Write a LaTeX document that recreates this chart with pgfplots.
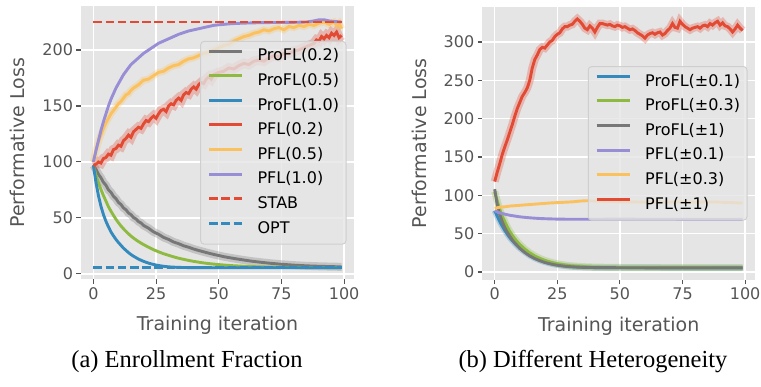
\documentclass[border=0pt]{standalone}
\usepackage{fontspec}
\setmainfont{DejaVu Sans}
\newfontfamily\capfont{Liberation Serif}
\usepackage{pgfplots}
\usepackage{pgfplotstable}
\pgfplotsset{compat=1.18}
\definecolor{bg}{HTML}{E5E5E5}
\definecolor{tickc}{HTML}{555555}
\definecolor{labc}{HTML}{555555}
\definecolor{legc}{HTML}{CFCFCF}
\definecolor{cred}{HTML}{E24A33}
\definecolor{cblue}{HTML}{348ABD}
\definecolor{cpurple}{HTML}{988ED5}
\definecolor{cgray}{HTML}{777777}
\definecolor{cyellow}{HTML}{FBC15E}
\definecolor{cgreen}{HTML}{8EBA42}

% ---------- left panel data ----------
\pgfplotstableread{
t v
0 97
1 93.4
2 89.0
3 85.9
4 81.8
5 79.2
6 75.1
7 72.9
8 69.3
9 67.2
10 63.8
11 62.0
12 58.9
13 57.3
14 54.4
15 52.9
16 50.3
17 49.1
18 46.7
19 45.5
20 43.3
22 40.8
24 37.5
26 35.4
28 32.6
30 30.8
32 28.5
34 27.0
36 25.1
38 23.8
40 22.2
42 20.9
44 19.7
46 18.5
48 17.4
50 16.4
52 15.4
54 14.6
56 13.8
58 13.1
60 12.4
63 11.4
66 10.6
70 9.6
75 8.6
80 7.8
85 7.2
90 6.8
95 6.5
99 6.3
}\Lgray
\pgfplotstableread{
t v
0 97
1 88
2 81.5
3 75.5
4 70
5 65
6 60
7 56
8 52.3
9 48.8
10 45.7
11 42.8
12 40.3
13 38
14 35.8
15 33.8
16 32
17 30.4
18 28.9
19 27.5
20 26.2
22 23.8
24 21.6
26 19.7
28 18
30 16.6
32 15.2
34 14
36 13
38 12
40 11.2
43 10.1
46 9.2
50 8.3
55 7.4
60 6.8
65 6.4
70 6.1
80 5.8
90 5.7
99 5.6
}\Lgreen
\pgfplotstableread{
t v
0 97
1 82
2 70
3 60.5
4 53
5 47
6 42
7 37.5
8 34
9 30.8
10 28
11 25.5
12 23
13 21
14 19
15 17.3
16 15.8
18 13.2
20 11.2
22 9.6
24 8.4
26 7.5
28 6.8
30 6.3
33 5.9
36 5.7
40 5.6
50 5.5
99 5.5
}\Lblue
\pgfplotstableread{
t v
0 97
1 98
2 100
3 99
4 103
5 104
6 107
7 106
8 111
9 112
10 115
11 114
12 119
13 121
14 124
15 122
16 127
17 129
18 131
19 130
20 134
21 137
22 136
23 139
24 141
25 139
26 143
27 146
28 147
29 145
30 150
31 152
32 151
33 155
34 157
35 155
36 160
37 162
38 161
39 165
40 167
41 165
42 169
43 171
44 170
45 174
46 176
47 174
48 178
50 180
52 181
54 184
56 183
58 186
60 188
62 187
64 190
66 191
68 190
70 193
72 195
74 194
76 197
78 197
80 199
82 200
84 202
86 204
88 206
89 209
90 208
91 212
92 210
93 213
94 211
95 215
96 213
97 216
98 211
99 213
}\Lred
\pgfplotstableread{
t v
0 100
1 110
2 118
3 124
4 130
5 135
6 139
7 143
8 146
9 149
10 152
11 154
12 157
13 160
14 161
15 164
16 166
18 169
20 173
22 174
24 177
26 180
28 181
30 184
32 186
34 187
36 190
38 192
40 193
42 195
44 197
46 198
48 200
50 202
52 204
54 205
56 208
58 210
60 212
62 213
64 215
66 216
68 218
70 217
72 219
74 220
76 218
78 221
80 220
82 222
84 221
86 223
88 222
90 224
92 225
94 223
96 225
97 222
98 224
99 219
}\Lyellow
\pgfplotstableread{
t v
0 100
1 110
2 119
3 128
4 136
5 143
6 150
7 156
8 161
9 166
10 170
11 174
12 178
13 181
14 184
15 187
16 189
17 191
18 193
19 195
20 197
22 200
24 203
26 206
28 208
30 210
32 212
34 214
36 215.5
38 217
40 218
42 219
44 220
46 221
48 222
50 222.5
55 223.5
60 224
65 224.3
70 224.5
75 224.6
80 224.7
85 225
88 226
90 227
92 227
94 226
96 225.5
99 225
}\Lpurple

% ---------- right panel data ----------
\pgfplotstableread{
t v
0 80
1 73
2 66
3 60
4 54.5
5 49.5
6 45
7 41
8 37.5
10 31
12 26
14 21.5
16 18
18 15.2
20 13
22 11.2
24 9.8
26 8.7
28 7.8
30 7.1
33 6.5
36 6.1
40 5.8
50 5.6
99 5.5
}\Rblue
\pgfplotstableread{
t v
0 105
1 93
2 82
3 73
4 66
5 59
6 53
7 48
8 43.5
9 39.5
10 36
12 30
14 25
16 21
18 17.8
20 15.2
22 13.2
24 11.5
26 10.1
28 9.1
30 8.3
33 7.5
36 6.9
40 6.4
50 5.9
60 5.7
99 5.6
}\Rgreen
\pgfplotstableread{
t v
0 108
1 88
2 75
3 66
4 58
5 52
6 47
7 42
8 38
9 34.5
10 31
12 25.5
14 21
16 17.5
18 14.8
20 12.5
22 10.8
24 9.4
26 8.4
28 7.6
30 7
33 6.4
36 6
40 5.8
50 5.6
60 5.5
99 5.5
}\Rgray
\pgfplotstableread{
t v
0 80
2 77
4 75.5
6 74
8 73
10 72
12 71.3
14 70.7
16 70.2
18 69.8
20 69.5
25 69
30 68.8
40 68.8
50 69
60 68.8
70 68.8
80 68.6
90 68.7
99 68.6
}\Rpurple
\pgfplotstableread{
t v
0 83
2 84.5
4 85
6 86
8 86.5
10 87
12 87.5
14 88
16 88.5
18 89
20 89.5
22 90
25 90.5
28 91
31 91.5
34 92.5
37 93
40 92.5
45 92
50 91.5
55 91.5
60 91
65 91.5
70 91
75 91.5
80 91
85 91.5
90 91
95 90.5
99 90
}\Ryellow
\pgfplotstableread{
t v
0 118
1 130
2 141
3 153
4 163
5 172
6 182
7 192
8 203
9 213
10 221
11 229
12 234
13 240
14 250
15 266
16 277
17 283
18 290
19 293
20 292
21 296
22 300
23 302
24 307
25 310
26 312
27 317
28 320
29 320
30 322
31 323
32 327
33 330
34 327
35 323
36 318
37 316
38 321
39 318
40 313
41 319
42 324
43 324
44 323
45 322
46 323
47 321
48 320
49 322
50 321
51 319
52 320
53 318
54 316
55 317
56 315
57 312
58 310
59 308
60 305
61 309
62 311
63 312
64 310
65 312
66 313
67 309
68 311
69 315
70 318
71 324
72 319
73 318
74 327
75 323
76 320
77 318
78 316
79 318
80 319
81 320
82 318
83 321
84 322
85 320
86 324
87 322
88 325
89 327
90 322
91 325
92 321
93 320
94 317
95 313
96 317
97 322
98 318
99 315
}\Rred

\tikzset{mainline/.style={line width=2.9pt}, bandline/.style={line width=#1, opacity=0.3}}

\pgfplotsset{ggstyle/.style={
  scale only axis, anchor=south west,
  axis background/.style={fill=bg},
  axis line style={draw=none},
  grid=major, major grid style={white, line width=1.3pt},
  tick align=outside, major tick length=4.5pt,
  tick style={color=tickc, line width=1.1pt},
  tick pos=left,
  xtick={0,25,50,75,100},
  /pgf/number format/assume math mode=true,
  tick label style={font=\fontsize{16}{19}\selectfont, text=labc},
  xlabel style={font=\fontsize{19}{22}\selectfont, text=labc, at={(axis description cs:0.5,-0.187)}, anchor=base},
  ylabel style={font=\fontsize{19}{22}\selectfont, text=labc, anchor=center},
  xlabel={Training iteration}, ylabel={Performative Loss},
  legend cell align=left,
  legend style={at={(axis description cs:1,0.5)}, anchor=east, xshift=-7.5pt,
    fill=bg, fill opacity=0.8, text opacity=1, draw=legc, line width=1pt,
    rounded corners=3.5pt, inner xsep=7pt, inner ysep=3pt,
    row sep=0pt, column sep=14pt,
    font=\fontsize{16}{19}\selectfont, text=black,
    nodes={inner xsep=0pt, inner ysep=4.8pt, text height=11.7pt, text depth=3.3pt}},
  legend image code/.code={\draw[##1, line width=2.9pt] (0pt,5.5pt) -- (33pt,5.5pt);},
}}

\begin{document}
\begin{tikzpicture}
\path[use as bounding box] (0,0) rectangle (761pt,387pt);

\begin{axis}[ggstyle,
  at={(81pt,107.5pt)}, width=273pt, height=273.5pt,
  xmin=-4.95, xmax=103.95, ymin=-5, ymax=239.3,
  ytick={0,50,100,150,200},
  ylabel style={at={(axis description cs:-0.232,0.5)}},
]
\addplot[cgray, bandline=8pt, forget plot] table {\Lgray};
\addplot[cgray, mainline] table {\Lgray};
\addlegendentry{ProFL(0.2)}
\addplot[cgreen, mainline] table {\Lgreen};
\addlegendentry{ProFL(0.5)}
\addplot[cblue, mainline] table {\Lblue};
\addlegendentry{ProFL(1.0)}
\addplot[cred, bandline=9.5pt, forget plot] table {\Lred};
\addplot[cred, mainline] table {\Lred};
\addlegendentry{PFL(0.2)}
\addplot[cyellow, bandline=7pt, forget plot] table {\Lyellow};
\addplot[cyellow, mainline] table {\Lyellow};
\addlegendentry{PFL(0.5)}
\addplot[cpurple, mainline] table {\Lpurple};
\addlegendentry{PFL(1.0)}
\addplot[cred, mainline, dash pattern=on 8.5pt off 3.7pt] coordinates {(0,225) (99,225)};
\addlegendentry{STAB}
\addplot[cblue, mainline, dash pattern=on 8.5pt off 3.7pt] coordinates {(0,5.4) (99,5.4)};
\addlegendentry{OPT}
\end{axis}

\begin{axis}[ggstyle,
  at={(482.3pt,107pt)}, width=272.7pt, height=273.3pt,
  xmin=-4.95, xmax=103.95, ymin=-10.4, ymax=346,
  ytick={0,50,100,150,200,250,300},
  ylabel style={at={(axis description cs:-0.230,0.5)}},
]
\addplot[cblue, bandline=6pt, forget plot] table {\Rblue};
\addplot[cblue, mainline] table {\Rblue};
\addlegendentry{ProFL(±0.1)}
\addplot[cgreen, bandline=7pt, forget plot] table {\Rgreen};
\addplot[cgreen, mainline] table {\Rgreen};
\addlegendentry{ProFL(±0.3)}
\addplot[cgray, mainline] table {\Rgray};
\addlegendentry{ProFL(±1)}
\addplot[cpurple, mainline] table {\Rpurple};
\addlegendentry{PFL(±0.1)}
\addplot[cyellow, mainline] table {\Ryellow};
\addlegendentry{PFL(±0.3)}
\addplot[cred, bandline=8pt, forget plot] table {\Rred};
\addplot[cred, mainline] table {\Rred};
\addlegendentry{PFL(±1)}
\end{axis}

\node[font=\capfont\fontsize{24.5}{28}\selectfont, anchor=base] at (187pt,19pt) {(a) Enrollment Fraction};
\node[font=\capfont\fontsize{24.5}{28}\selectfont, anchor=base] at (593pt,19pt) {(b) Different Heterogeneity};
\end{tikzpicture}
\end{document}
